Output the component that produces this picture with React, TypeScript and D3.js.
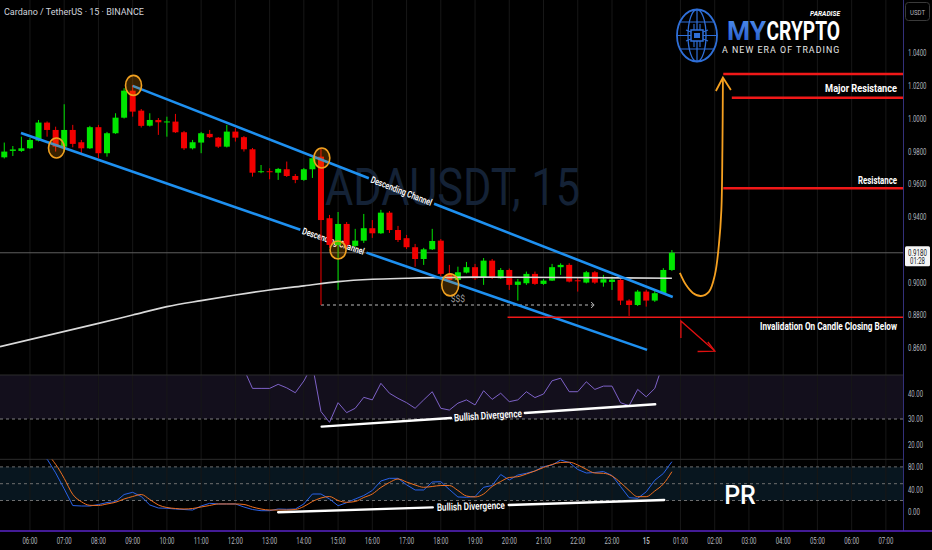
import React, { useLayoutEffect, useRef, useState } from "react";
import * as d3 from "d3";

const W = 932;
const H = 550;
const PR = 903; // right edge of plot

// ---------- DATA ----------
const timeLabels = ["06:00","07:00","08:00","09:00","10:00","11:00","12:00","13:00","14:00","15:00","16:00","17:00","18:00","19:00","20:00","21:00","22:00","23:00","15","01:00","02:00","03:00","04:00","05:00","06:00","07:00"];
const candlesPerLabel = 4;
const firstIdx = -3;
const opens = [0.9763,0.9802,0.9802,0.9818,0.9865,0.9975,0.9930,0.9828,0.9930,0.9855,0.9818,0.9947,0.9788,0.9910,1.0005,1.0170,1.0048,0.9956,0.9991,0.9978,0.9981,0.9916,0.9818,0.9853,0.9906,0.9883,0.9828,0.9920,0.9886,0.9812,0.9674,0.9678,0.9669,0.9690,0.9649,0.9625,0.9690,0.9767,0.9391,0.9228,0.9356,0.9222,0.9254,0.9330,0.9299,0.9425,0.9319,0.9269,0.9214,0.9142,0.9201,0.9254,0.9051,0.9014,0.9059,0.9092,0.9031,0.9132,0.9024,0.9075,0.8984,0.8994,0.9051,0.8990,0.9010,0.9092,0.9106,0.9012,0.8998,0.9061,0.8998,0.9002,0.9014,0.8888,0.8861,0.8943,0.8888,0.8933,0.9075];
const highs = [0.9853,0.9832,0.9889,0.9881,0.9991,0.9982,0.9950,1.0087,0.9961,0.9869,0.9955,0.9961,0.9918,1.0032,1.0185,1.0205,1.0058,1.0032,1.0003,1.0011,1.0028,0.9924,0.9869,0.9918,0.9930,0.9887,0.9961,0.9941,0.9893,0.9820,0.9716,0.9696,0.9698,0.9737,0.9661,0.9698,0.9771,0.9820,0.9411,0.9429,0.9368,0.9326,0.9417,0.9380,0.9442,0.9435,0.9344,0.9289,0.9234,0.9210,0.9326,0.9264,0.9106,0.9095,0.9124,0.9112,0.9148,0.9142,0.9087,0.9084,0.9020,0.9065,0.9065,0.9020,0.9112,0.9116,0.9116,0.9032,0.9069,0.9069,0.9045,0.9034,0.9020,0.8896,0.8953,0.8953,0.8950,0.9086,0.9197];
const lows = [0.9756,0.9771,0.9796,0.9814,0.9860,0.9889,0.9798,0.9798,0.9824,0.9788,0.9814,0.9757,0.9767,0.9906,1.0000,1.0011,0.9945,0.9951,0.9900,0.9889,0.9912,0.9808,0.9811,0.9788,0.9881,0.9820,0.9823,0.9859,0.9798,0.9645,0.9666,0.9629,0.9625,0.9643,0.9605,0.9619,0.9637,0.8861,0.9210,0.8953,0.9210,0.9216,0.9240,0.9271,0.9295,0.9301,0.9246,0.9203,0.9095,0.9106,0.9197,0.9038,0.9002,0.9008,0.9054,0.9014,0.8984,0.9020,0.9020,0.8953,0.8888,0.8984,0.8984,0.8984,0.9008,0.9045,0.8999,0.8943,0.8993,0.8990,0.8973,0.8953,0.8861,0.8794,0.8855,0.8851,0.8880,0.8929,0.9069];
const closes = [0.9798,0.9811,0.9818,0.9869,0.9975,0.9930,0.9828,0.9930,0.9845,0.9818,0.9947,0.9788,0.9910,1.0005,1.0170,1.0042,0.9955,0.9991,0.9977,0.9982,0.9916,0.9818,0.9855,0.9910,0.9886,0.9828,0.9920,0.9883,0.9812,0.9669,0.9678,0.9674,0.9692,0.9649,0.9625,0.9690,0.9757,0.9380,0.9228,0.9356,0.9228,0.9254,0.9330,0.9299,0.9425,0.9319,0.9258,0.9214,0.9142,0.9201,0.9252,0.9051,0.9014,0.9061,0.9092,0.9024,0.9132,0.9031,0.9075,0.8984,0.9004,0.9051,0.8990,0.9010,0.9092,0.9106,0.9004,0.9008,0.9061,0.8998,0.9018,0.9016,0.8888,0.8861,0.8943,0.8888,0.8933,0.9075,0.9180];

const maIdx = [-3.5, 8, 12, 16, 20, 24, 28, 32, 36, 40, 44, 52, 63, 75];
const maVal = [0.8607, 0.8749, 0.8800, 0.8851, 0.8888, 0.8922, 0.8953, 0.8978, 0.9004, 0.9018, 0.9024, 0.9031, 0.9029, 0.9024];

const rsiFirstIdx = 25;
const rsiVals = [49.5,42.0,42.0,42.0,43.6,42.2,40.3,44.9,51.2,32.9,28.7,36.4,32.5,34.2,38.5,37.5,44.0,40.1,38.1,36.4,34.2,37.5,40.7,34.2,33.5,36.2,37.5,35.5,41.1,37.7,40.1,36.8,37.5,40.7,38.4,39.8,45.0,46.0,40.7,40.7,44.6,41.6,42.9,42.9,36.4,35.2,41.6,38.7,42.0,52,58];

const stochK = [100,100,100,100,100,94,69.3,40.7,11,10.2,10.2,12.7,16.4,17.9,30.7,34.6,27.1,12,6.6,6.1,4.8,3.9,3,10.2,15,13.8,13.8,13.8,8.4,3.9,1.8,1.8,4.8,4.3,4.8,13.8,31.6,31.6,22.7,10.7,16.1,22.7,28.9,37.9,54.8,59.6,59.6,48,38.8,38.8,53,53.6,39.6,26.3,25.7,27.1,43.6,46.8,66.4,56.6,65.5,68.6,72.7,80.4,83.4,92.3,87.9,75.4,69.1,70,71.8,64.6,45,25,23.9,35.5,56.1,68.2,89.3];
const stochD = [100,100,100,100,100,100,84.6,59.5,31,17.9,11.4,11.1,13.8,16.8,22.7,27.1,30.7,21.8,12,7.5,5.7,4.8,5.7,8.4,11.1,13.8,13.8,13.8,12.9,8.4,4.8,3,3,3,3.9,9.3,18.2,24.5,27.1,20,16.8,18.2,25.4,31.6,43.2,52.1,58.4,53,47.7,43.6,45,46.8,46.8,37.9,28,26.3,31.6,45,53.9,61.1,62.5,67.3,72.7,78.9,84.3,87.9,88.4,83.4,75.7,69.1,68.6,63.8,52.1,37.9,26.8,26.8,37,49.5,71.4];

const priceTicks = [1.04, 1.02, 1.0, 0.98, 0.96, 0.94, 0.9, 0.88, 0.86];
const rsiTicks = [40, 30, 20];
const stochTicks = [80, 40, 0];
const lastPrice = 0.918;
const countdown = "01:28";

// annotations (time index, price)
const circleIdx = [3.1, 12.1, 34.1, 36.0, 49.1];
const circlePrice = [0.982, 1.0202, 0.9759, 0.9197, 0.8984];
const channelUpper = [[12.0, 1.0199], [75.1, 0.891]];
const channelLower = [[-1.05, 0.9912], [72.1, 0.8587]];
const upperLabelIdx = 43.4;
const lowerLabelIdx = 35.45;
const levelPrices = [1.0272, 1.0127, 0.9574, 0.8786];
const levelStartIdx = [81.0, 82.0, 81.0, 55.8];
const levelLabels = ["Major Resistance", "Resistance", "Invalidation On Candle Closing Below"];
const levelLabelPrices = [1.0187, 0.9625, 0.8729];
const liquidity = [[34, 0.8861], [65.8, 0.8861]];
const liquidityLabel = [50, 0.8898];
const orangePath = [[75.93,0.9057],[76.64,0.8984],[77.45,0.8935],[78.39,0.8916],[79.32,0.8941],[80.02,0.9045],[80.49,0.9228],[80.78,0.9442],[80.9,0.9808],[80.96,1.0242]];
const orangeHead = [[80.14,1.0168],[80.96,1.0250],[81.89,1.0174]];
const redArrow = [[76.05,0.866],[76.05,0.8764],[80.02,0.858]];
const redHead = [[78.0,0.8577],[80.02,0.858],[79.2,0.8635]];
const rsiDiv = [[34.08, 27.0], [73.05, 35.8]];
const rsiDivLabelIdx = 53.5;
const stochDiv = [[29.0, -1.1], [74.1, 20.9]];
const stochDivLabelIdx = 51.5;

// ---------- SCALES ----------
const xs = d3.scaleLinear().domain([-3.5, 102]).range([0, PR]);
const ys = d3.scaleLinear().domain([0.86, 1.04]).range([347.75, 53]);
const yr = d3.scaleLinear().domain([20, 40]).range([444.5, 393.5]);
const yk = d3.scaleLinear().domain([0, 100]).range([511.7, 455.7]);

const GREEN = "#00e600";
const RED = "#f20000";
const FONT = "Roboto, 'Noto Sans', sans-serif";

type P = [number, number];

function gap(p1: P, p2: P, cx: number, g: number) {
  const t = (cx - p1[0]) / (p2[0] - p1[0]);
  const L = Math.hypot(p2[0] - p1[0], p2[1] - p1[1]);
  const dt = g / 2 / L;
  const lerp = (u: number): P => [p1[0] + (p2[0] - p1[0]) * u, p1[1] + (p2[1] - p1[1]) * u];
  const ang = (Math.atan2(p2[1] - p1[1], p2[0] - p1[0]) * 180) / Math.PI;
  return { a: [p1, lerp(t - dt)], b: [lerp(t + dt), p2], c: lerp(t), ang };
}

const line = d3.line<P>();

// Text squeezed horizontally to a target width with a scale transform (condensed look)
function FitText({ x, y, width, rotate = 0, anchor = "start", children, ...rest }: any) {
  const ref = useRef<SVGTextElement>(null);
  const [sx, setSx] = useState(0.7);
  useLayoutEffect(() => {
    if (!ref.current) return;
    const n = ref.current.getComputedTextLength();
    if (n > 0) setSx(width / n);
  }, [width, children]);
  return (
    <text
      ref={ref}
      transform={`translate(${x},${y}) rotate(${rotate}) scale(${sx},1)`}
      textAnchor={anchor}
      {...rest}
    >
      {children}
    </text>
  );
}

function LabeledLine({ p1, p2, cx, g, text, tl, stroke, sw, fs }: any) {
  const r = gap(p1, p2, cx, g);
  return (
    <g>
      <path d={line(r.a as P[]) || ""} stroke={stroke} strokeWidth={sw} fill="none" strokeLinecap="round" />
      <path d={line(r.b as P[]) || ""} stroke={stroke} strokeWidth={sw} fill="none" strokeLinecap="round" />
      <FitText x={r.c[0]} y={r.c[1]} rotate={r.ang} width={tl} anchor="middle" dy="0.35em" fontWeight={600} fontSize={fs} fill="#ffffff">
        {text}
      </FitText>
    </g>
  );
}

function AxisText({ x, y, text, tl, anchor = "start", fill = "#b2b5be", weight = 400, fs = 9.5 }: any) {
  return (
    <FitText x={x} y={y} width={tl} anchor={anchor} dy="0.35em" fontSize={fs} fontWeight={weight} fill={fill}>
      {text}
    </FitText>
  );
}

export default function App() {
  const candles = opens.map((o, k) => ({ i: firstIdx + k, o, h: highs[k], l: lows[k], c: closes[k] }));
  const hourIdx = timeLabels.map((_, k) => k * candlesPerLabel);

  const maLine = d3
    .line<number>()
    .x((_, k) => xs(maIdx[k]))
    .y((v) => ys(v))
    .curve(d3.curveMonotoneX)(maVal);

  const rsiLine = d3
    .line<number>()
    .x((_, k) => xs(rsiFirstIdx + k))
    .y((v) => yr(v))(rsiVals);

  const kLine = d3
    .line<number>()
    .x((_, k) => xs(firstIdx + k))
    .y((v) => yk(v))(stochK);
  const dLine = d3
    .line<number>()
    .x((_, k) => xs(firstIdx + k))
    .y((v) => yk(v))
    .curve(d3.curveMonotoneX)(stochD);

  const pp = (a: number[]): P => [xs(a[0]), ys(a[1])];
  const curveLine = d3.line<P>().curve(d3.curveCatmullRom.alpha(0.5));

  const lastY = ys(lastPrice);
  const AX = 908; // left edge of axis labels

  return (
    <svg
      width={W}
      height={H}
      viewBox={`0 0 ${W} ${H}`}
      style={{ position: "fixed", left: 0, top: 0, background: "#000" }}
      fontFamily={FONT}
    >
      <defs>
        <clipPath id="mainClip"><rect x={0} y={0} width={PR} height={375} /></clipPath>
        <clipPath id="rsiClip"><rect x={0} y={375.5} width={PR} height={83.5} /></clipPath>
        <clipPath id="stClip"><rect x={0} y={459.5} width={PR} height={71} /></clipPath>
        <linearGradient id="myGrad" x1="0" x2="0" y1="0" y2="1">
          <stop offset="0" stopColor="#4f8ff0" />
          <stop offset="1" stopColor="#2457c5" />
        </linearGradient>
      </defs>
      <rect x={0} y={0} width={W} height={H} fill="#000" />

      {/* panes backgrounds */}
      <rect x={0} y={375} width={PR} height={yr(30) - 375} fill="#130f1c" />
      <rect x={0} y={yk(80)} width={PR} height={yk(20) - yk(80)} fill="#08161f" />

      {/* vertical grid */}
      {hourIdx.map((i) => (
        <line key={"g" + i} x1={xs(i)} x2={xs(i)} y1={0} y2={531} stroke="#171717" strokeWidth={1} />
      ))}

      {/* pane separators */}
      <line x1={0} x2={PR} y1={375} y2={375} stroke="#2c2c2c" />
      <line x1={0} x2={PR} y1={459.3} y2={459.3} stroke="#2c2c2c" />

      {/* watermark */}
      <FitText x={325} y={205} width={255} fontSize={51} fill="#142236">
        ADAUSDT, 15
      </FitText>

      {/* header */}
      <text x={4} y={15} fontSize={9} fill="#d1d4dc">Cardano / TetherUS · 15 · BINANCE</text>

      <g clipPath="url(#mainClip)">
        {/* current price line */}
        <line x1={0} x2={PR} y1={lastY} y2={lastY} stroke="#5f5f5f" strokeWidth={1} />

        {/* channel labels under candles */}
        {[{ ch: channelUpper, cx: upperLabelIdx }, { ch: channelLower, cx: lowerLabelIdx }].map((c, k) => {
          const r = gap(pp(c.ch[0]), pp(c.ch[1]), xs(c.cx), 70);
          return (
            <FitText
              key={"cl" + k}
              x={r.c[0]}
              y={r.c[1]}
              rotate={r.ang}
              width={65}
              anchor="middle"
              dy="0.35em"
              fontSize={9.5}
              fontWeight={600}
              fill="#ffffff"
            >
              Descending Channel
            </FitText>
          );
        })}

        {/* liquidity dashed line */}
        <line
          x1={xs(liquidity[0][0])}
          x2={xs(liquidity[1][0])}
          y1={ys(liquidity[0][1])}
          y2={ys(liquidity[1][1])}
          stroke="#bdbdbd"
          strokeWidth={1}
          strokeDasharray="3,3"
        />
        <path
          d={`M${xs(liquidity[1][0]) - 2},${ys(liquidity[1][1]) - 3} L${xs(liquidity[1][0]) + 1},${ys(liquidity[1][1])} L${xs(liquidity[1][0]) - 2},${ys(liquidity[1][1]) + 3}`}
          stroke="#bdbdbd"
          fill="none"
        />
        <text x={xs(liquidityLabel[0])} y={ys(liquidityLabel[1])} dy="0.35em" textAnchor="middle" fontSize={8.5} fill="#9a9a9a">
          $$$
        </text>

        {/* candles */}
        {candles.map((d) => {
          const up = d.c >= d.o;
          const col = up ? GREEN : RED;
          const x = xs(d.i);
          const top = ys(Math.max(d.o, d.c));
          const bot = ys(Math.min(d.o, d.c));
          return (
            <g key={"c" + d.i}>
              <line x1={x} x2={x} y1={ys(d.h)} y2={ys(d.l)} stroke={col} strokeWidth={1} />
              <rect x={x - 3} y={top} width={6} height={Math.max(1, bot - top)} fill={col} />
            </g>
          );
        })}

        {/* 200 MA */}
        <path d={maLine || ""} stroke="#d9d9d9" strokeWidth={1.6} fill="none" />

        {/* channel lines with text gaps */}
        {[{ ch: channelUpper, cx: upperLabelIdx }, { ch: channelLower, cx: lowerLabelIdx }].map((c, k) => {
          const r = gap(pp(c.ch[0]), pp(c.ch[1]), xs(c.cx), 70);
          return (
            <g key={"ch" + k}>
              <path d={line(r.a as P[]) || ""} stroke="#1e90f0" strokeWidth={2.6} fill="none" />
              <path d={line(r.b as P[]) || ""} stroke="#1e90f0" strokeWidth={2.6} fill="none" />
            </g>
          );
        })}

        {/* orange circles */}
        {circleIdx.map((ci, k) => (
          <ellipse
            key={"o" + k}
            cx={xs(ci)}
            cy={ys(circlePrice[k])}
            rx={k === 4 ? 8.5 : 8}
            ry={k === 4 ? 11 : k === 3 ? 9 : 10}
            fill="rgba(255,152,0,0.22)"
            stroke="#f0a020"
            strokeWidth={1.6}
          />
        ))}

        {/* levels */}
        {levelPrices.map((p, k) => (
          <line key={"lv" + k} x1={xs(levelStartIdx[k])} x2={PR} y1={ys(p)} y2={ys(p)} stroke="#f01818" strokeWidth={k === 3 ? 1.6 : 2.6} />
        ))}

        {/* orange projection */}
        <path d={curveLine(orangePath.map(pp)) || ""} stroke="#f5a020" strokeWidth={1.8} fill="none" />
        <path d={line(orangeHead.map(pp)) || ""} stroke="#f5a020" strokeWidth={1.8} fill="none" />

        {/* red arrow */}
        <path d={line(redArrow.map(pp)) || ""} stroke="#e01010" strokeWidth={1.3} fill="none" />
        <path d={line(redHead.map(pp)) || ""} stroke="#e01010" strokeWidth={1.3} fill="none" />
      </g>

      {/* level labels */}
      {levelLabels.map((t, k) => (
        <FitText
          key={"ll" + k}
          x={897}
          y={ys(levelLabelPrices[k])}
          width={[72, 39, 137][k]}
          anchor="end"
          dy="0.35em"
          fontSize={11}
          fontWeight={700}
          fill="#ffffff"
        >
          {t}
        </FitText>
      ))}

      {/* RSI pane */}
      <line x1={0} x2={PR} y1={yr(30)} y2={yr(30)} stroke="#808080" strokeDasharray="3,3" strokeWidth={1} />
      <g clipPath="url(#rsiClip)">
        <path d={rsiLine || ""} stroke="#7e62c8" strokeWidth={1} fill="none" />
      </g>
      <LabeledLine
        p1={[xs(rsiDiv[0][0]), yr(rsiDiv[0][1])]}
        p2={[xs(rsiDiv[1][0]), yr(rsiDiv[1][1])]}
        cx={xs(rsiDivLabelIdx)}
        g={74}
        text="Bullish Divergence"
        tl={68}
        stroke="#ffffff"
        sw={2.4}
        fs={10.5}
      />

      {/* Stoch pane */}
      {[80, 50, 20].map((v) => (
        <line key={"sd" + v} x1={0} x2={PR} y1={yk(v)} y2={yk(v)} stroke="#6e6e6e" strokeDasharray="3,3" strokeWidth={1} />
      ))}
      <g clipPath="url(#stClip)">
        <path d={kLine || ""} stroke="#2a62e8" strokeWidth={1} fill="none" />
        <path d={dLine || ""} stroke="#f07020" strokeWidth={1} fill="none" />
      </g>
      <LabeledLine
        p1={[xs(stochDiv[0][0]), yk(stochDiv[0][1])]}
        p2={[xs(stochDiv[1][0]), yk(stochDiv[1][1])]}
        cx={xs(stochDivLabelIdx)}
        g={76}
        text="Bullish Divergence"
        tl={68}
        stroke="#ffffff"
        sw={2.4}
        fs={10.5}
      />
      <text x={740} y={504} textAnchor="middle" fontSize={25} fontWeight={500} fill="#ffffff">PR</text>

      {/* axes borders */}
      <line x1={PR + 0.5} x2={PR + 0.5} y1={0} y2={531} stroke="#33307a" strokeWidth={1} />
      <line x1={0} x2={W} y1={531} y2={531} stroke="#5a24c8" strokeWidth={1.5} />

      {/* price axis labels */}
      {priceTicks.map((p) => (
        <AxisText key={"pt" + p} x={AX} y={ys(p)} text={p.toFixed(4)} tl={18.5} />
      ))}
      {rsiTicks.map((v) => (
        <AxisText key={"rt" + v} x={AX} y={yr(v)} text={v.toFixed(2)} tl={15} />
      ))}
      {stochTicks.map((v) => (
        <AxisText key={"st" + v} x={AX} y={yk(v)} text={v.toFixed(2)} tl={v === 0 ? 12 : 15} />
      ))}

      {/* last price box */}
      <rect x={905} y={lastY - 6.5} width={25} height={20} rx={1.5} fill="#f5f5f5" />
      <AxisText x={917.5} y={lastY} text={lastPrice.toFixed(4)} tl={19} anchor="middle" fill="#131722" fs={8.5} />
      <AxisText x={917.5} y={lastY + 8.5} text={countdown} tl={15} anchor="middle" fill="#131722" fs={8.5} />

      {/* USDT box */}
      <rect x={905.5} y={2.5} width={24} height={18} rx={3} fill="#000" stroke="#3a3a3a" />
      <AxisText x={917.5} y={12} text="USDT" tl={15} anchor="middle" fs={8} />

      {/* time axis labels */}
      {timeLabels.map((t, k) => (
        <AxisText
          key={"tl" + k}
          x={xs(hourIdx[k])}
          y={541}
          text={t}
          tl={t === "15" ? 7 : 15}
          anchor="middle"
          weight={t === "15" ? 700 : 400}
          fs={9}
        />
      ))}

      {/* logo */}
      <g stroke="#2f6fd8" fill="none" strokeWidth={1.8}>
        <ellipse cx={697} cy={35.5} rx={20} ry={26} />
        <ellipse cx={697} cy={35.5} rx={9} ry={26} strokeWidth={1.3} />
        <line x1={697} x2={697} y1={9.5} y2={61.5} strokeWidth={1.2} />
        <path d="M680,22 H714 M677,35.5 H717 M680,49 H714" strokeWidth={1.2} />
        <rect x={691} y={30} width={12} height={11} fill="#000" strokeWidth={1.5} />
        <rect x={694} y={33} width={6} height={5} fill="#2f6fd8" stroke="none" />
        <path d="M686,30 L691,32 M686,41 L691,39 M708,30 L703,32 M708,41 L703,39 M694,24 L694,30 M700,24 L700,30 M694,47 L694,41 M700,47 L700,41" strokeWidth={1.1} />
      </g>
      <FitText x={727} y={40} width={39} fontSize={26} fontWeight={700} fill="url(#myGrad)">MY</FitText>
      <FitText x={766.5} y={40} width={73.5} fontSize={26} fontWeight={700} fill="#ffffff">CRYPTO</FitText>
      <FitText x={840} y={15.5} width={30} anchor="end" fontSize={6.5} fontWeight={700} fontStyle="italic" fill="#ffffff">PARADISE</FitText>
      <text x={722} y={52.5} fontSize={8.8} fill="#e6e6e6" letterSpacing={1.05}>A NEW ERA OF TRADING</text>
    </svg>
  );
}
